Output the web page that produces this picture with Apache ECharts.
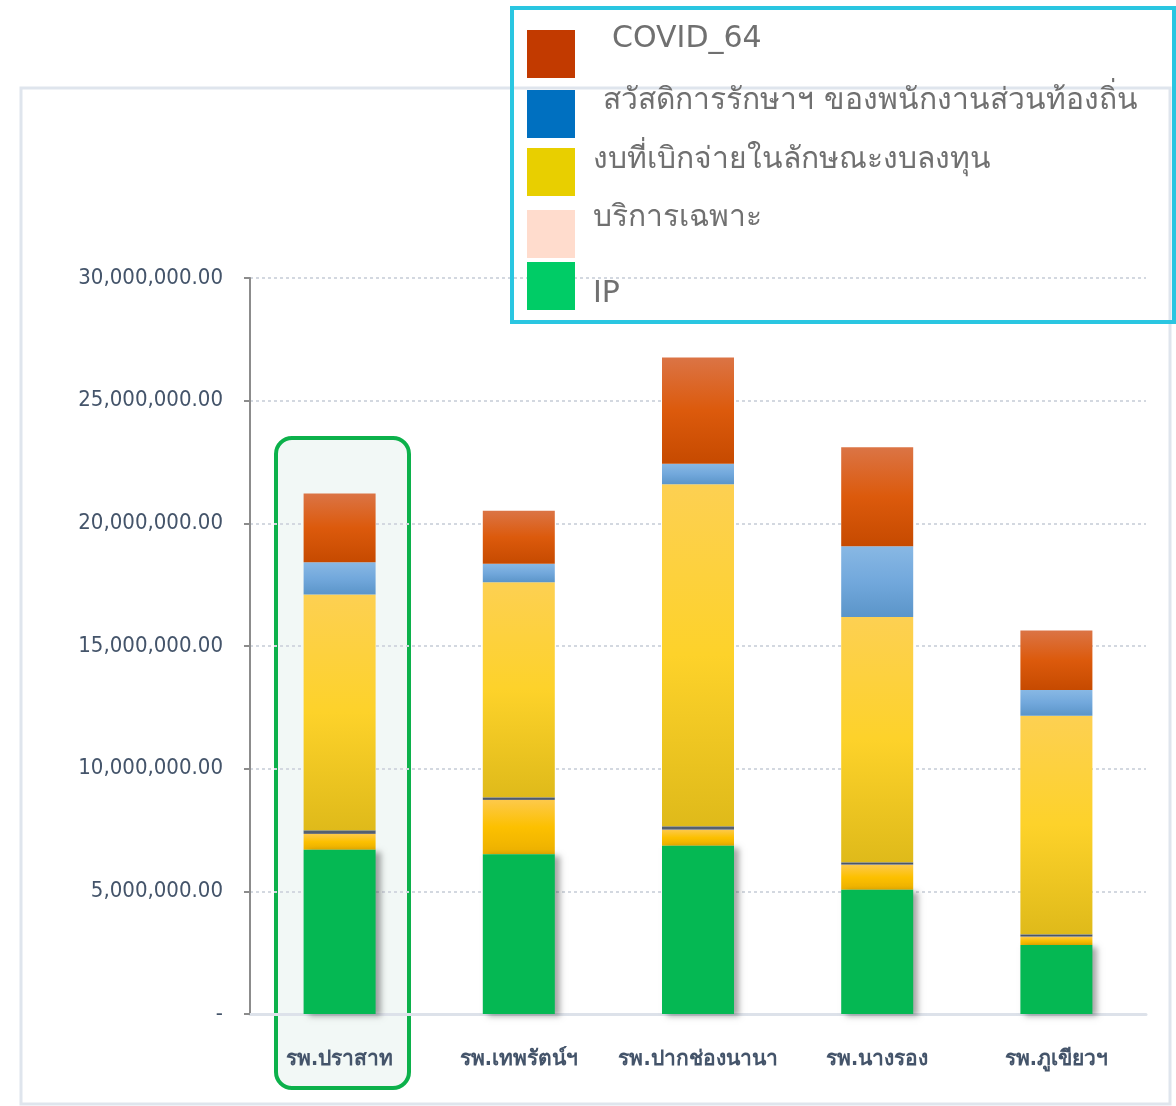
<!DOCTYPE html>
<html>
<head>
<meta charset="utf-8">
<script src="https://cdn.jsdelivr.net/npm/echarts@6/dist/echarts.min.js"></script>
<style>
html,body{margin:0;padding:0;background:#fff;}
#c{width:1176px;height:1106px;}
</style>
</head>
<body>
<div id="c"></div>
<script>
const categories = ['รพ.ปราสาท', 'รพ.เทพรัตน์ฯ', 'รพ.ปากช่องนานา', 'รพ.นางรอง', 'รพ.ภูเขียวฯ'];
const ipValues      = [6700000, 6510000, 6860000, 5060000, 2810000];
const otherValues   = [640000, 2210000, 650000, 1020000, 340000];
const serviceValues = [150000, 110000, 140000, 110000, 100000];
const investValues  = [9610000, 8770000, 13940000, 9990000, 8910000];
const welfareValues = [1310000, 750000, 840000, 2890000, 1050000];
const covidValues   = [2810000, 2160000, 4330000, 4030000, 2420000];
const yTicks = [0, 5000000, 10000000, 15000000, 20000000, 25000000, 30000000];

const names = {
  covid: 'COVID_64',
  welfare: 'สวัสดิการรักษาฯ ของพนักงานส่วนท้องถิ่น',
  invest: 'งบที่เบิกจ่ายในลักษณะงบลงทุน',
  service: 'บริการเฉพาะ',
  ip: 'IP',
  other: 'อื่นๆ'
};

function grad(top, mid, bot) {
  return {type: 'linear', x: 0, y: 0, x2: 0, y2: 1,
    colorStops: [{offset: 0, color: top}, {offset: 0.5, color: mid}, {offset: 1, color: bot}]};
}

const legendFont = "Tahoma, 'DejaVu Sans', 'Noto Sans', sans-serif";
const legendItems = [
  {name: names.covid,   color: '#c23a00', iconTop: 30,  textTop: 21,  textLeft: 607},
  {name: names.welfare, color: '#0070c0', iconTop: 90,  textTop: 83,  textLeft: 598},
  {name: names.invest,  color: '#e8cf00', iconTop: 148, textTop: 142, textLeft: 588},
  {name: names.service, color: '#ffdccd', iconTop: 210, textTop: 200, textLeft: 588},
  {name: names.ip,      color: '#00cc66', iconTop: 262, textTop: 276, textLeft: 588}
];
const legends = [];
legendItems.forEach(it => {
  legends.push({
    left: 527, top: it.iconTop, padding: 0, selectedMode: false,
    itemWidth: 48, itemHeight: 48, icon: 'rect',
    formatter: () => '',
    data: [{name: it.name, itemStyle: {color: it.color, borderWidth: 0, shadowBlur: 0, shadowOffsetX: 0}}]
  });
  legends.push({
    left: it.textLeft, top: it.textTop, padding: 0, selectedMode: false,
    itemWidth: 0, itemHeight: 0, icon: 'rect',
    textStyle: {fontSize: 30, lineHeight: 36, color: '#707070', fontFamily: legendFont},
    data: [{name: it.name, itemStyle: {opacity: 0}}]
  });
});

const chart = echarts.init(document.getElementById('c'), null, {renderer: 'canvas'});
const barW = 72;
const option = {
  backgroundColor: '#ffffff',
  animation: false,
  legend: legends,
  graphic: [
    {type: 'rect', z: -20, silent: true, shape: {x: 21, y: 88, width: 1149, height: 1016},
      style: {fill: null, stroke: '#dfe5ed', lineWidth: 3}},
    {type: 'rect', z: -10, silent: true, shape: {x: 276, y: 438, width: 133, height: 650, r: 16},
      style: {fill: '#f2f8f6', stroke: '#0cb14b', lineWidth: 4}},
    {type: 'rect', z: 100, silent: true, shape: {x: 512, y: 8, width: 662, height: 314},
      style: {fill: null, stroke: '#2ac6e1', lineWidth: 4}}
  ],
  grid: {left: 250, right: 30, top: 278, bottom: 92, containLabel: false},
  xAxis: {
    type: 'category', data: categories,
    axisLine: {show: true, lineStyle: {color: '#dde2ea', width: 3}},
    axisTick: {show: false},
    axisLabel: {interval: 0, margin: 35, fontSize: 21, color: '#44546a', fontWeight: 'bold condensed',
      fontFamily: "'DejaVu Sans', sans-serif"}
  },
  yAxis: {
    type: 'value', min: 0, max: 30000000, interval: 5000000,
    axisLine: {show: true, lineStyle: {color: '#8c8c8c', width: 2}},
    axisTick: {show: true, length: 6, lineStyle: {color: '#8c8c8c', width: 2}},
    splitLine: {show: true, lineStyle: {color: '#d3d8e0', width: 2, type: [3, 3]}},
    axisLabel: {
      margin: 27, fontSize: 22, color: '#44546a', fontWeight: 'normal condensed',
      fontFamily: "'DejaVu Sans', sans-serif",
      formatter: v => {
        if (!yTicks.includes(v)) return '';
        if (v === 0) return '-';
        return v.toLocaleString('en-US', {minimumFractionDigits: 2, maximumFractionDigits: 2});
      }
    }
  },
  series: [
    {name: names.ip, type: 'bar', stack: 't', barWidth: barW, data: ipValues, z: 3,
      itemStyle: {color: '#05b853', shadowColor: 'rgba(0,0,0,0.35)', shadowBlur: 6, shadowOffsetX: 5, shadowOffsetY: 2}},
    {name: names.other, type: 'bar', stack: 't', barWidth: barW, data: otherValues,
      itemStyle: {color: grad('#fdc94a', '#fcc000', '#ecb000')}},
    {name: names.service, type: 'bar', stack: 't', barWidth: barW, data: serviceValues,
      itemStyle: {color: grad('#6a7480', '#4a5668', '#7a7c80')}},
    {name: names.invest, type: 'bar', stack: 't', barWidth: barW, data: investValues,
      itemStyle: {color: grad('#fdd052', '#fdd22a', '#dfba1a')}},
    {name: names.welfare, type: 'bar', stack: 't', barWidth: barW, data: welfareValues,
      itemStyle: {color: grad('#88b8e4', '#72a8dc', '#5b95c9')}},
    {name: names.covid, type: 'bar', stack: 't', barWidth: barW, data: covidValues,
      itemStyle: {color: grad('#db7445', '#dc5a0c', '#c64a00')}}
  ]
};
chart.setOption(option);
</script>
</body>
</html>
